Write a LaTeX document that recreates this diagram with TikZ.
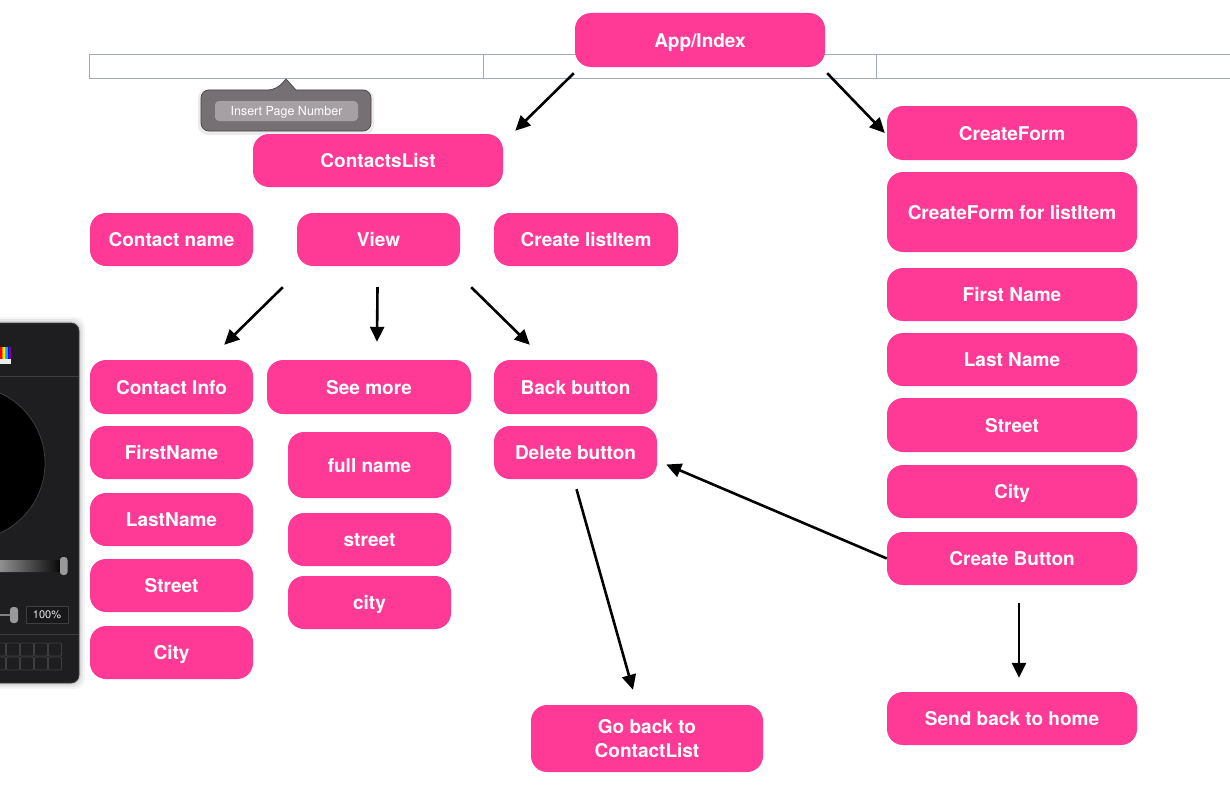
\documentclass[tikz,border=0pt]{standalone}
\usepackage{fontspec}
\setmainfont{TeX Gyre Heros}
\usetikzlibrary{arrows.meta}
\definecolor{hot}{RGB}{255,58,150}
\definecolor{rule}{RGB}{162,170,178}
\definecolor{tipbody}{RGB}{118,112,117}
\definecolor{tipedge}{RGB}{70,68,70}
\definecolor{tipbtn}{RGB}{166,159,164}
\definecolor{panel}{RGB}{30,30,32}
\definecolor{panelline}{RGB}{62,62,64}
\begin{document}
\begin{tikzpicture}[x=1pt,y=-1pt,
  box/.style n args={2}{rectangle, rounded corners=16pt, fill=hot, text=white,
    font=\bfseries\fontsize{19}{24}\selectfont, inner sep=0pt, align=center,
    text height=14.7pt, text depth=0pt,
    minimum width=#1pt, minimum height=#2pt},
  arr/.style={-{Triangle[length=15pt,width=14pt]}, line width=2.6pt, black},
  cell/.style={draw=panelline, line width=0.8pt, rounded corners=1pt}]
\useasboundingbox (0,0) rectangle (1230,800);
\clip (0,0) rectangle (1230,800);

% header table behind the top node
\draw[rule, line width=0.9pt] (89,54) rectangle (1240,78);
\draw[rule, line width=0.9pt] (483,54) -- (483,78) (876,54) -- (876,78);

% colour panel on the left edge
\foreach \s/\o in {6/0.04,4/0.06,2/0.08}
  \fill[black, opacity=\o, rounded corners=10pt] (-30,323-\s) rectangle (79+\s,683+\s);
\draw[fill=panel, draw=panelline, line width=0.8pt, rounded corners=8pt] (-30,323) rectangle (79,683);
\foreach \c/\x in {red/0,orange/1.5,yellow/3,green/4.5,cyan/6,blue/7.5,violet/9}
  \fill[\c] (\x,347) rectangle (\x+1.5,359);
\fill[white!85!gray] (0,359) rectangle (10.5,364);
\draw[panelline, line width=0.8pt] (0,376) -- (79,376);
\draw[fill=black, draw=panelline, line width=0.8pt] (-32,463) circle (77);
\shade[left color=gray!70, right color=black, rounded corners=4pt] (-10,560) rectangle (64,572);
\fill[gray!80, rounded corners=3pt] (60,557) rectangle (67.5,575);
\draw[gray, line width=2pt] (0,615) -- (12,615);
\fill[gray!80, rounded corners=3pt] (10,607) rectangle (18,623);
\draw[fill=panel!80!black, draw=panelline, line width=0.8pt] (26,606) rectangle (68,623);
\node[text=white!85!gray, font=\fontsize{11}{12}\selectfont, inner sep=0pt] (pct) at (47,615) {100\%};
\draw[panelline, line width=0.8pt] (0,634) -- (79,634);
\foreach \x in {-8,6,20,34,48}
  \foreach \y in {643,657}
    \draw[cell] (\x+0.5,\y) rectangle (\x+13.5,\y+13);

% tooltip
\fill[black, opacity=0.08, rounded corners=10pt] (198,89) rectangle (374,135);
\draw[fill=tipbody, draw=tipedge, line width=0.7pt]
  (201,110) [rounded corners=8pt] |- (276,90) [sharp corners] -- (286,79) -- (296,90)
  [rounded corners=8pt] -| (371,110) |- (201,131) -- cycle;
\fill[tipbtn, rounded corners=4pt] (215,101) rectangle (358,121);
\node[text=white, font=\fontsize{12.5}{14}\selectfont, inner sep=0pt, text height=9pt, text depth=0pt] (tip) at (286.5,111) {Insert Page Number};

% nodes
\node[box={250}{54}] (app) at (700,40) {App/Index};
\node[box={250}{53}] (cl) at (378,160.5) {ContactsList};
\node[box={163}{53}] (cn) at (171.5,239.5) {Contact name};
\node[box={163}{53}] (view) at (378.5,239.5) {View};
\node[box={184}{53}] (cli) at (586,239.5) {Create listItem};

\node[box={163}{54}] (ci) at (171.5,387) {Contact Info};
\node[box={163}{53}] (fn) at (171.5,452.5) {FirstName};
\node[box={163}{53}] (ln) at (171.5,519.5) {LastName};
\node[box={163}{53}] (st) at (171.5,585.5) {Street};
\node[box={163}{53}] (ct) at (171.5,652.5) {City};

\node[box={204}{54}] (sm) at (369,387) {See more};
\node[box={163}{66}] (full) at (369.5,465) {full name};
\node[box={163}{53}] (st2) at (369.5,539.5) {street};
\node[box={163}{53}] (ct2) at (369.5,602.5) {city};

\node[box={163}{54}] (bb) at (575.5,387) {Back button};
\node[box={163}{53}] (del) at (575.5,452.5) {Delete button};
\node[box={232}{67}, text height=38.7pt] (gb) at (647,738.5) {Go back to\\ContactList};

\node[box={250}{54}] (cf) at (1012,133) {CreateForm};
\node[box={250}{80}] (cfl) at (1012,212) {CreateForm for listItem};
\node[box={250}{53}] (fn2) at (1012,294.5) {First Name};
\node[box={250}{53}] (ln2) at (1012,359.5) {Last Name};
\node[box={250}{54}] (st3) at (1012,425) {Street};
\node[box={250}{53}] (ct3) at (1012,491.5) {City};
\node[box={250}{53}] (cb) at (1012,558.5) {Create Button};
\node[box={250}{53}] (home) at (1012,718.5) {Send back to home};

% connectors
\draw[arr] ([shift={(-1,6)}]app.south west) -- ([shift={(12,-3)}]cl.north east);
\draw[arr] ([shift={(2,6)}]app.south east) -- ([xshift=-2]cf.west);
\draw[arr] ([shift={(-14,21)}]view.south west) -- ([shift={(-29,-15)}]ci.north east);
\draw[arr] ([shift={(-1,21)}]view.south) -- ([shift={(8,-18)}]sm.north);
\draw[arr] ([shift={(11,21)}]view.south east) -- ([shift={(36,-15)}]bb.north west);
\draw[arr] ([shift={(1,10)}]del.south) -- ([shift={(-14,-15)}]gb.north);
\draw[arr] (cb.west) -- ([shift={(9,12)}]del.east);
\draw[arr] ([shift={(7,18)}]cb.south) -- ([shift={(7,-14)}]home.north);
\end{tikzpicture}
\end{document}
